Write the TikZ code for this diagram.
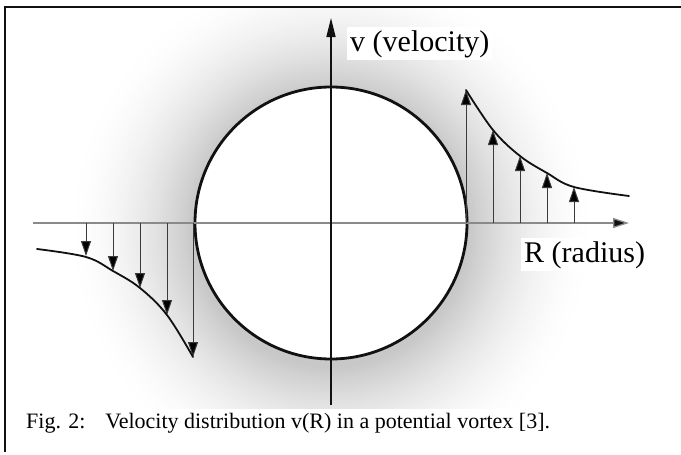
\documentclass[tikz,border=0pt]{standalone}
\usepackage{fontspec}
\setmainfont{Liberation Serif}
\usetikzlibrary{arrows.meta}
\definecolor{axisgray}{HTML}{8A8A8A}
\definecolor{shaftgray}{HTML}{3A3A3A}
\definecolor{ink}{HTML}{111111}

\begin{document}
\begin{tikzpicture}[x=1pt,y=-1pt,>=Latex,
frame/.style={draw=ink,line width=2.4pt},
disk/.style={circle,draw=ink,fill=white,line width=2.8pt,minimum size=272pt,inner sep=0pt},
raxis/.style={draw=axisgray,line width=1.3pt,-{Triangle[length=16pt,width=10pt,fill=ink]}},
vaxis/.style={draw=ink,line width=1.4pt,-{Triangle[length=19pt,width=9pt]}},
speed/.style={draw=shaftgray,line width=1pt,-{Triangle[length=15pt,width=10pt,fill=black]}},
profile/.style={draw=ink,line width=1.8pt,line cap=round},
axislabel/.style={fill=white,inner sep=3pt,text=black,font=\fontsize{30}{36}\selectfont},
caption/.style={inner sep=0pt,text=black,font=\fontsize{22}{26}\selectfont}]
\useasboundingbox (0,0) rectangle (681,455);
% glow around the vortex core
\begin{scope}
\clip (6,8) rectangle (681,408);
\foreach \r in {265,262,...,138}{
  \pgfmathsetmacro{\pct}{22*((265-\r)/127)^1.8}
  \fill[black!\pct] (331,229) circle[radius=\r];}
\end{scope}
\draw[frame] (681,7) -- (5,7) -- (5,452);
\node[disk] (core) at (331,223) {};
% axes
\coordinate (r0) at (33,223); \coordinate (r1) at (629,223);
\coordinate (v0) at (331,405); \coordinate (v1) at (331,18);
\draw[raxis] (r0) -- (r1);
\draw[vaxis] (v0) -- (v1);
% velocity arrows, right side (upward)
\foreach \x/\y [count=\i] in {466/90,493/130,520/156,547/173,574/187}{
  \coordinate (pb\i) at (\x,223); \coordinate (pt\i) at (\x,\y);
  \draw[speed] (pb\i) -- (pt\i);}
\draw[profile] plot[smooth,tension=0.6] coordinates {(466,90) (493,130) (520,156) (547,173) (574,187) (629,196)};
% velocity arrows, left side (downward)
\foreach \x/\y [count=\i] in {86/256,113/271,140/288,167/315,193/357}{
  \coordinate (nb\i) at (\x,223); \coordinate (nt\i) at (\x,\y);
  \draw[speed] (nb\i) -- (nt\i);}
\draw[profile] plot[smooth,tension=0.6] coordinates {(37,249) (86,257) (113,271) (140,288) (167,315) (193,357)};
% labels
\node[axislabel,anchor=base west] (vlab) at (347,51) {v (velocity)};
\node[axislabel,anchor=base west] (rlab) at (521,262) {R (radius)};
\node[caption,anchor=base west] (cap) at (26,428) {Fig. 2:\hspace{0.9em}Velocity distribution v(R) in a potential vortex [3].};
\end{tikzpicture}
\end{document}
